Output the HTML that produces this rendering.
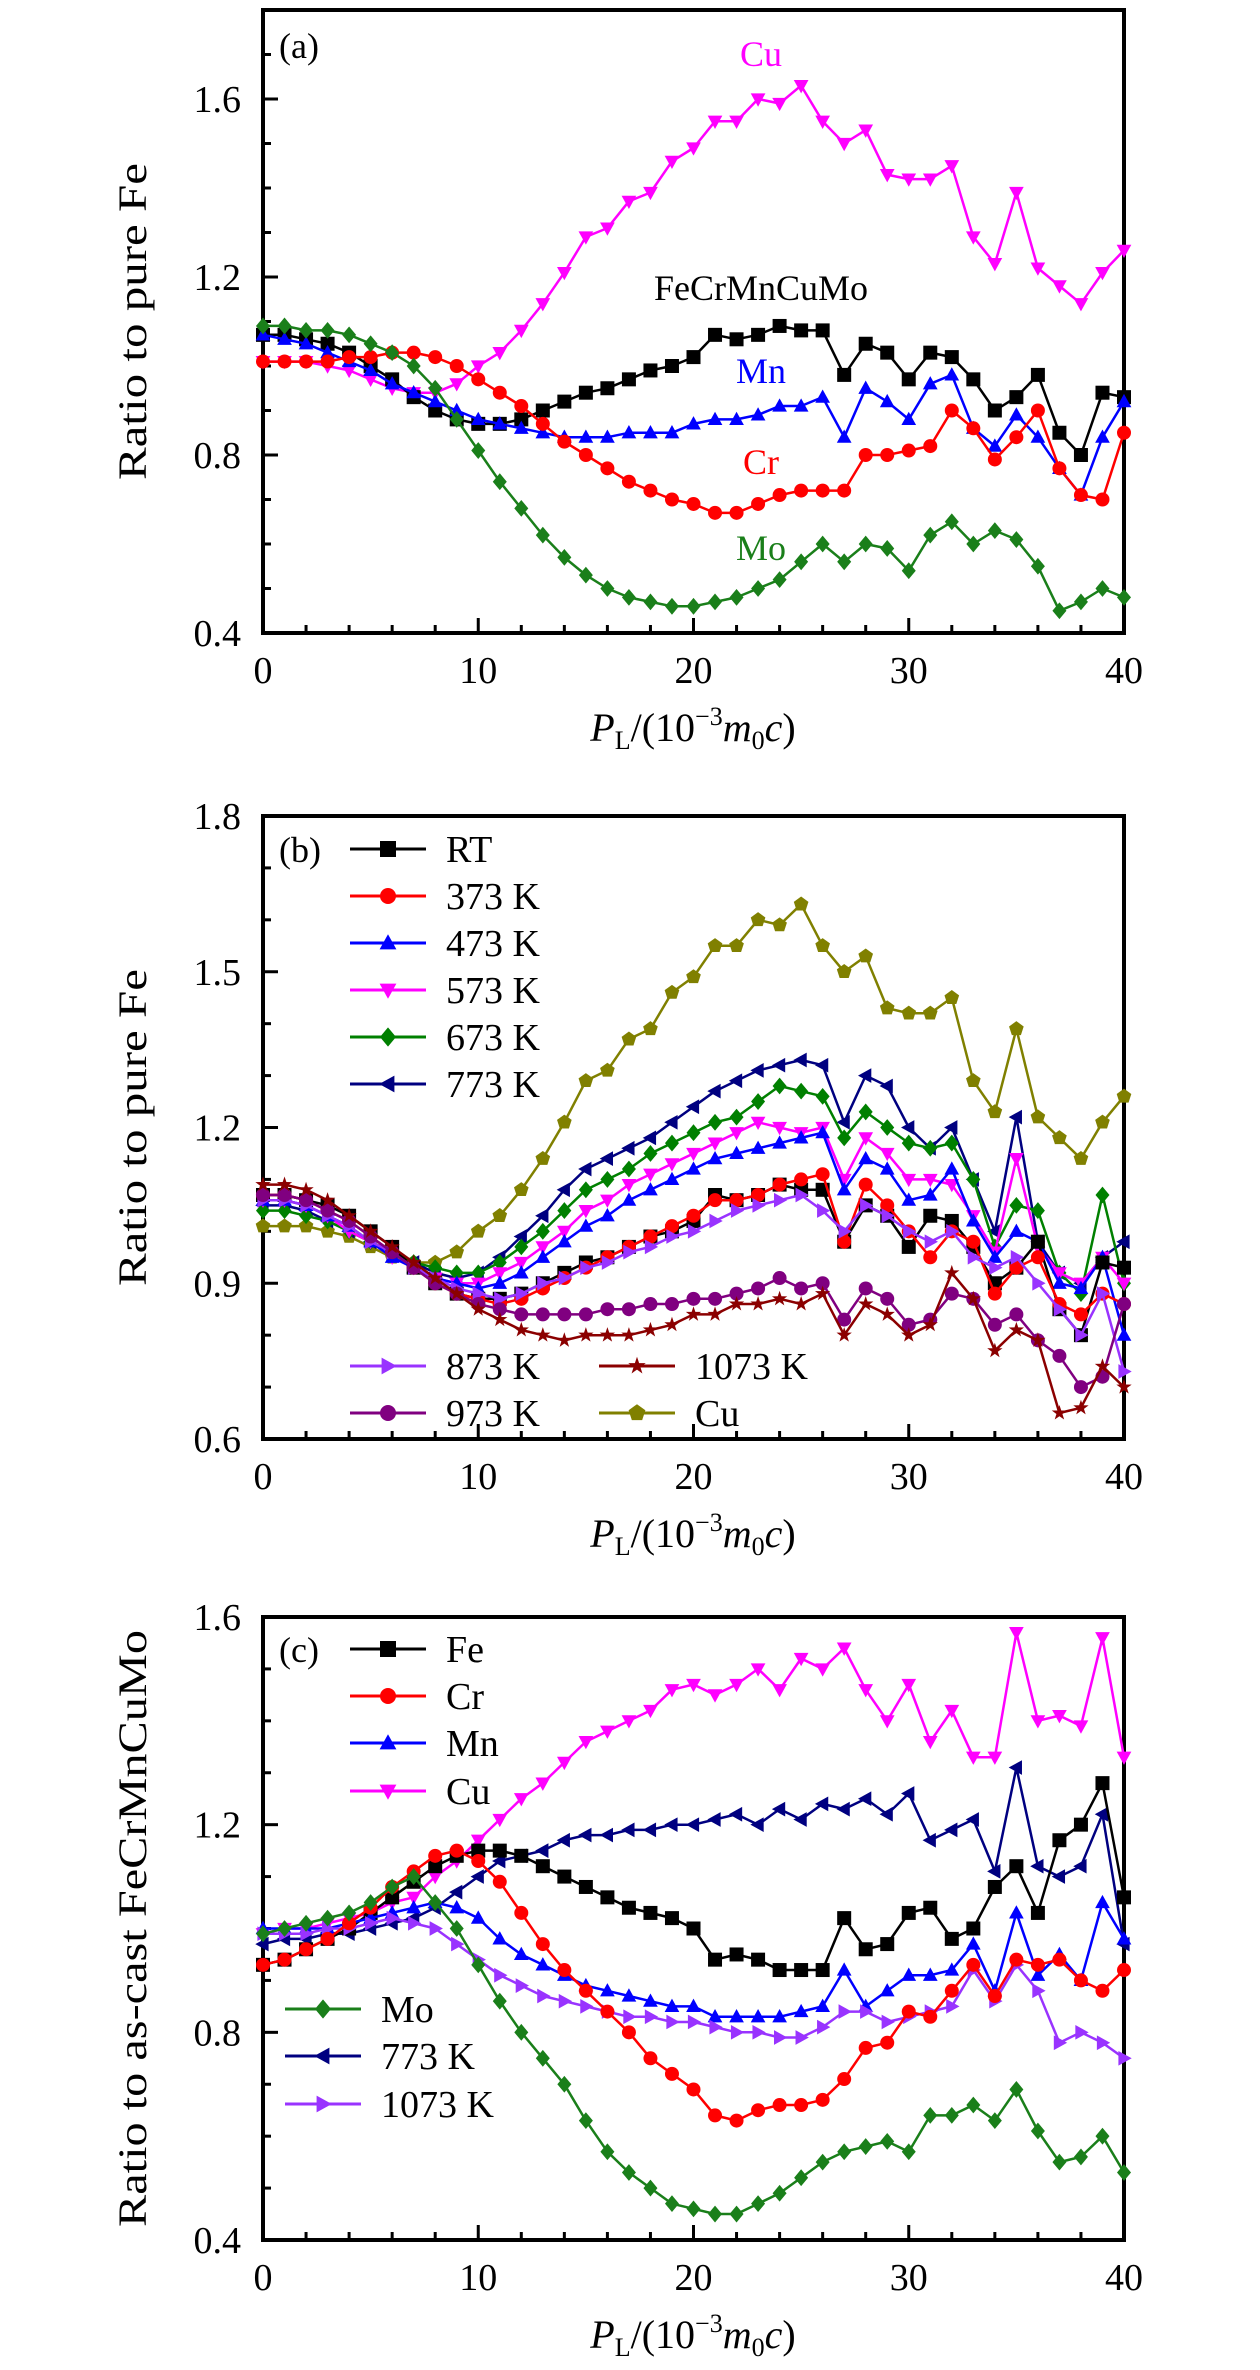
<!DOCTYPE html>
<html><head><meta charset="utf-8"><title>Ratio charts</title>
<style>
html,body{margin:0;padding:0;background:#fff;}
svg{display:block;font-family:"Liberation Serif",serif;}
</style></head>
<body>
<svg id="fig" width="1260" height="2370" viewBox="0 0 1260 2370" xmlns="http://www.w3.org/2000/svg"></svg>
<script>
// ---------- data ----------
const xValues = [0,1,2,3,4,5,6,7,8,9,10,11,12,13,14,15,16,17,18,19,20,21,22,23,24,25,26,27,28,29,30,31,32,33,34,35,36,37,38,39,40];
const xTickLabels = ["0","10","20","30","40"];
const yTicksA = ["0.4","0.8","1.2","1.6"];
const yTicksB = ["0.6","0.9","1.2","1.5","1.8"];
const yTicksC = ["0.4","0.8","1.2","1.6"];

const aCu   = [1.01,1.01,1.01,1.0,0.99,0.97,0.95,0.94,0.94,0.96,1.0,1.03,1.08,1.14,1.21,1.29,1.31,1.37,1.39,1.46,1.49,1.55,1.55,1.6,1.59,1.63,1.55,1.5,1.53,1.43,1.42,1.42,1.45,1.29,1.23,1.39,1.22,1.18,1.14,1.21,1.26];
const aFe   = [1.07,1.07,1.06,1.05,1.03,1.0,0.97,0.93,0.9,0.88,0.87,0.87,0.88,0.9,0.92,0.94,0.95,0.97,0.99,1.0,1.02,1.07,1.06,1.07,1.09,1.08,1.08,0.98,1.05,1.03,0.97,1.03,1.02,0.97,0.9,0.93,0.98,0.85,0.8,0.94,0.93];
const aMn   = [1.07,1.06,1.05,1.03,1.01,0.99,0.96,0.94,0.92,0.9,0.88,0.87,0.86,0.85,0.84,0.84,0.84,0.85,0.85,0.85,0.87,0.88,0.88,0.89,0.91,0.91,0.93,0.84,0.95,0.92,0.88,0.96,0.98,0.86,0.82,0.89,0.84,0.77,0.71,0.84,0.92];
const aCr   = [1.01,1.01,1.01,1.01,1.02,1.02,1.03,1.03,1.02,1.0,0.97,0.94,0.91,0.87,0.83,0.8,0.77,0.74,0.72,0.7,0.69,0.67,0.67,0.69,0.71,0.72,0.72,0.72,0.8,0.8,0.81,0.82,0.9,0.86,0.79,0.84,0.9,0.77,0.71,0.7,0.85];
const aMo   = [1.09,1.09,1.08,1.08,1.07,1.05,1.03,1.0,0.95,0.88,0.81,0.74,0.68,0.62,0.57,0.53,0.5,0.48,0.47,0.46,0.46,0.47,0.48,0.5,0.52,0.56,0.6,0.56,0.6,0.59,0.54,0.62,0.65,0.6,0.63,0.61,0.55,0.45,0.47,0.5,0.48];

const bRT   = aFe;
const b373  = [1.07,1.07,1.06,1.04,1.02,0.99,0.96,0.93,0.9,0.88,0.87,0.86,0.87,0.89,0.91,0.93,0.95,0.97,0.99,1.01,1.03,1.06,1.06,1.07,1.09,1.1,1.11,0.98,1.09,1.05,1.0,0.95,1.0,0.98,0.88,0.93,0.95,0.86,0.84,0.88,0.86];
const b473  = [1.06,1.06,1.05,1.03,1.01,0.98,0.95,0.93,0.91,0.9,0.89,0.9,0.92,0.95,0.98,1.01,1.03,1.06,1.08,1.1,1.12,1.14,1.15,1.16,1.17,1.18,1.19,1.08,1.14,1.12,1.06,1.07,1.12,1.02,0.95,1.0,0.98,0.9,0.89,0.95,0.8];
const b573  = [1.06,1.06,1.05,1.03,1.0,0.98,0.95,0.93,0.91,0.9,0.9,0.92,0.94,0.97,1.0,1.04,1.06,1.09,1.11,1.13,1.15,1.17,1.19,1.21,1.2,1.19,1.2,1.1,1.18,1.15,1.1,1.1,1.09,1.03,0.96,1.14,0.97,0.92,0.9,0.95,0.9];
const b673  = [1.04,1.04,1.03,1.02,1.0,0.98,0.96,0.94,0.93,0.92,0.92,0.94,0.97,1.0,1.04,1.08,1.1,1.12,1.15,1.17,1.19,1.21,1.22,1.25,1.28,1.27,1.26,1.18,1.23,1.2,1.17,1.16,1.17,1.1,0.97,1.05,1.04,0.92,0.88,1.07,0.9];
const b773  = [1.05,1.05,1.04,1.02,1.0,0.98,0.96,0.94,0.92,0.91,0.92,0.95,0.99,1.03,1.08,1.12,1.14,1.16,1.18,1.21,1.24,1.27,1.29,1.31,1.32,1.33,1.32,1.21,1.3,1.28,1.2,1.16,1.2,1.1,1.0,1.22,0.98,0.92,0.9,0.95,0.98];
const b873  = [1.06,1.06,1.05,1.03,1.01,0.98,0.96,0.93,0.91,0.89,0.88,0.87,0.88,0.9,0.91,0.93,0.94,0.96,0.97,0.99,1.0,1.02,1.04,1.05,1.06,1.07,1.04,1.0,1.05,1.03,1.0,0.98,1.0,0.95,0.93,0.95,0.9,0.85,0.8,0.88,0.73];
const b973  = [1.07,1.07,1.06,1.04,1.02,0.99,0.96,0.93,0.9,0.88,0.86,0.85,0.84,0.84,0.84,0.84,0.85,0.85,0.86,0.86,0.87,0.87,0.88,0.89,0.91,0.89,0.9,0.83,0.89,0.87,0.82,0.83,0.88,0.87,0.82,0.84,0.79,0.76,0.7,0.72,0.86];
const b1073 = [1.09,1.09,1.08,1.06,1.03,1.0,0.97,0.94,0.91,0.88,0.85,0.83,0.81,0.8,0.79,0.8,0.8,0.8,0.81,0.82,0.84,0.84,0.86,0.86,0.87,0.86,0.88,0.8,0.86,0.84,0.8,0.82,0.92,0.87,0.77,0.81,0.79,0.65,0.66,0.74,0.7];
const bCu   = aCu;

const cFe   = [0.93,0.94,0.96,0.98,1.0,1.03,1.06,1.09,1.12,1.14,1.15,1.15,1.14,1.12,1.1,1.08,1.06,1.04,1.03,1.02,1.0,0.94,0.95,0.94,0.92,0.92,0.92,1.02,0.96,0.97,1.03,1.04,0.98,1.0,1.08,1.12,1.03,1.17,1.2,1.28,1.06];
const cCr   = [0.93,0.94,0.96,0.98,1.01,1.04,1.08,1.11,1.14,1.15,1.13,1.09,1.03,0.97,0.92,0.88,0.84,0.8,0.75,0.72,0.69,0.64,0.63,0.65,0.66,0.66,0.67,0.71,0.77,0.78,0.84,0.83,0.88,0.93,0.87,0.94,0.93,0.94,0.9,0.88,0.92];
const cMn   = [1.0,1.0,1.0,1.0,1.01,1.02,1.03,1.04,1.05,1.04,1.02,0.98,0.95,0.93,0.91,0.89,0.88,0.87,0.86,0.85,0.85,0.83,0.83,0.83,0.83,0.84,0.85,0.92,0.85,0.88,0.91,0.91,0.92,0.97,0.88,1.03,0.91,0.95,0.9,1.05,0.98];
const cCu   = [0.99,1.0,1.0,1.01,1.02,1.03,1.05,1.06,1.1,1.13,1.17,1.21,1.25,1.28,1.32,1.36,1.38,1.4,1.42,1.46,1.47,1.45,1.47,1.5,1.46,1.52,1.5,1.54,1.46,1.4,1.47,1.36,1.42,1.33,1.33,1.57,1.4,1.41,1.39,1.56,1.33];
const cMo   = [0.99,1.0,1.01,1.02,1.03,1.05,1.08,1.1,1.05,1.0,0.93,0.86,0.8,0.75,0.7,0.63,0.57,0.53,0.5,0.47,0.46,0.45,0.45,0.47,0.49,0.52,0.55,0.57,0.58,0.59,0.57,0.64,0.64,0.66,0.63,0.69,0.61,0.55,0.56,0.6,0.53];
const c773  = [0.97,0.98,0.98,0.99,0.99,1.0,1.01,1.02,1.04,1.07,1.1,1.13,1.14,1.15,1.17,1.18,1.18,1.19,1.19,1.2,1.2,1.21,1.22,1.2,1.23,1.21,1.24,1.23,1.25,1.22,1.26,1.17,1.19,1.21,1.11,1.31,1.12,1.1,1.12,1.22,0.97];
const c1073 = [0.99,0.99,0.99,1.0,1.0,1.01,1.02,1.01,1.0,0.97,0.94,0.91,0.89,0.87,0.86,0.85,0.84,0.83,0.83,0.82,0.82,0.81,0.8,0.8,0.79,0.79,0.81,0.84,0.84,0.82,0.83,0.84,0.85,0.92,0.86,0.93,0.88,0.78,0.8,0.78,0.75];

// ---------- drawing ----------
const NS = "http://www.w3.org/2000/svg";
const svg = document.getElementById("fig");
function mk(tag, attrs, parent){
  const e = document.createElementNS(NS, tag);
  for (const k in attrs) e.setAttribute(k, attrs[k]);
  (parent||svg).appendChild(e);
  return e;
}
function markerPath(type, s){
  const r = s/2;
  switch(type){
    case "square": return `M${-r},${-r}h${s}v${s}h${-s}z`;
    case "up": return `M0,${-r*1.1}L${r*1.05},${r*0.8}L${-r*1.05},${r*0.8}z`;
    case "down": return `M0,${r*1.1}L${r*1.05},${-r*0.8}L${-r*1.05},${-r*0.8}z`;
    case "left": return `M${-r*1.1},0L${r*0.8},${-r*1.05}L${r*0.8},${r*1.05}z`;
    case "right": return `M${r*1.1},0L${-r*0.8},${-r*1.05}L${-r*0.8},${r*1.05}z`;
    case "diamond": return `M0,${-r*1.2}L${r*1.0},0L0,${r*1.2}L${-r*1.0},0z`;
    case "star": { let d=""; for(let i=0;i<10;i++){const a=-Math.PI/2+i*Math.PI/5; const rr=i%2?r*0.45:r*1.15; d+=(i?"L":"M")+(rr*Math.cos(a)).toFixed(2)+","+(rr*Math.sin(a)).toFixed(2);} return d+"z"; }
    case "pent": { let d=""; for(let i=0;i<5;i++){const a=-Math.PI/2+i*2*Math.PI/5; d+=(i?"L":"M")+(r*1.1*Math.cos(a)).toFixed(2)+","+(r*1.1*Math.sin(a)).toFixed(2);} return d+"z"; }
  }
  return "";
}
function drawMarker(g, type, x, y, color, s){
  if (type === "circle") return mk("circle", {cx:x, cy:y, r:s/2, fill:color}, g);
  return mk("path", {d:markerPath(type,s), transform:`translate(${x},${y})`, fill:color}, g);
}

const X0 = 263, X1 = 1124;
function makePanel(name, top, bottom, ymin, ymax, yTicks, yMinorStep, ylabel, ylabelLen){
  const g = mk("g", {});
  
  
  const sx = v => X0 + (v - 0) / 40 * (X1 - X0);
  const sy = v => bottom - (v - ymin) / (ymax - ymin) * (bottom - top);
  // ticks x
  for (let v = 0; v <= 40; v += 2){
    const major = v % 10 === 0;
    const t = mk("line", {x1:sx(v), x2:sx(v), y1:bottom, y2:bottom-(major?15:8), stroke:"#000","stroke-width":3}, g);
    
    
  }
  xTickLabels.forEach(l => {
    const t = mk("text", {x:sx(+l), y:bottom+50, "text-anchor":"middle","font-size":38}, g);
    t.textContent = l;
    
    
  });
  // ticks y
  const nMin = Math.round((ymax - ymin) / yMinorStep);
  const majors = yTicks.map(Number);
  for (let i = 0; i <= nMin; i++){
    const v = ymin + i * yMinorStep;
    const major = majors.some(m => Math.abs(m - v) < 1e-6);
    const t = mk("line", {x1:X0, x2:X0+(major?15:8), y1:sy(v), y2:sy(v), stroke:"#000","stroke-width":3}, g);
    
    
  }
  yTicks.forEach(l => {
    const t = mk("text", {x:241, y:sy(+l)+13, "text-anchor":"end","font-size":38}, g);
    t.textContent = l;
    
    
  });
  // frame
  const f = mk("rect", {x:X0, y:top, width:X1-X0, height:bottom-top, fill:"none", stroke:"#000","stroke-width":4}, g);
  
  
  // y label
  const cy = (top + bottom) / 2;
  const yl = mk("text", {x:0, y:0, transform:`translate(146,${cy}) rotate(-90)`, "text-anchor":"middle","font-size":40, textLength:ylabelLen, lengthAdjust:"spacingAndGlyphs"}, g);
  yl.textContent = ylabel;
  
  
  // x label
  const xl = mk("text", {x:693, y:bottom+108, "text-anchor":"middle","font-size":40}, g);
  xl.innerHTML = '<tspan font-style="italic">P</tspan><tspan font-size="26" dy="8">L</tspan><tspan dy="-8">/(10</tspan><tspan font-size="26" dy="-16">−3</tspan><tspan font-style="italic" dy="16">m</tspan><tspan font-size="26" dy="8">0</tspan><tspan font-style="italic" dy="-8">c</tspan>)';
  
  
  return {g, sx, sy};
}
function series(p, name, vals, color, mtype){
  const g = mk("g", {}, p.g);
  
  
  const pts = vals.map((v,i) => p.sx(xValues[i]).toFixed(1)+","+p.sy(v).toFixed(1)).join(" ");
  mk("polyline", {points:pts, fill:"none", stroke:color, "stroke-width":2.5, "stroke-linejoin":"round"}, g);
  vals.forEach((v,i) => {
    const m = drawMarker(g, mtype, p.sx(xValues[i]), p.sy(v), color, 14);
    
    
  });
}
function label(p, txt, x, y, color, size, anchor){
  const t = mk("text", {x:x, y:y, fill:color, "font-size":size||38, "text-anchor":anchor||"start"}, p.g);
  t.textContent = txt;
  
  
}
function legendEntry(p, txt, x, y, color, mtype, lineLen){
  const g = mk("g", {}, p.g);
  
  
  mk("line", {x1:x, x2:x+lineLen, y1:y, y2:y, stroke:color, "stroke-width":3}, g);
  drawMarker(g, mtype, x+lineLen/2, y, color, 16);
  const t = mk("text", {x:x+lineLen+20, y:y+13, "font-size":38}, g);
  t.textContent = txt;
}

// Panel A
const pa = makePanel("panel-a", 10, 633, 0.4, 1.8, yTicksA, 0.1, "Ratio to pure Fe", 317);
series(pa, "series-a-cu", aCu, "#ff00ff", "down");
series(pa, "series-a-fe", aFe, "#000000", "square");
series(pa, "series-a-mn", aMn, "#0000ff", "up");
series(pa, "series-a-cr", aCr, "#ff0000", "circle");
series(pa, "series-a-mo", aMo, "#1a7f1a", "diamond");
label(pa, "(a)", 279, 58, "#000", 36);
label(pa, "Cu", 761, 66, "#ff00ff", 36, "middle");
label(pa, "FeCrMnCuMo", 761, 300, "#000", 36, "middle");
label(pa, "Mn", 761, 383, "#0000ff", 36, "middle");
label(pa, "Cr", 761, 474, "#ff0000", 36, "middle");
label(pa, "Mo", 761, 560, "#1a7f1a", 36, "middle");

// Panel B
const pb = makePanel("panel-b", 816, 1439, 0.6, 1.8, yTicksB, 0.1, "Ratio to pure Fe", 317);
series(pb, "series-b-cu", bCu, "#808000", "pent");
series(pb, "series-b-773", b773, "#000080", "left");
series(pb, "series-b-673", b673, "#008000", "diamond");
series(pb, "series-b-573", b573, "#ff00ff", "down");
series(pb, "series-b-473", b473, "#0000ff", "up");
series(pb, "series-b-rt", bRT, "#000000", "square");
series(pb, "series-b-373", b373, "#ff0000", "circle");
series(pb, "series-b-873", b873, "#9933ff", "right");
series(pb, "series-b-973", b973, "#800080", "circle");
series(pb, "series-b-1073", b1073, "#8b0000", "star");
label(pb, "(b)", 279, 862, "#000", 36);
legendEntry(pb, "RT", 350, 849, "#000000", "square", 76);
legendEntry(pb, "373 K", 350, 896, "#ff0000", "circle", 76);
legendEntry(pb, "473 K", 350, 943, "#0000ff", "up", 76);
legendEntry(pb, "573 K", 350, 990, "#ff00ff", "down", 76);
legendEntry(pb, "673 K", 350, 1037, "#008000", "diamond", 76);
legendEntry(pb, "773 K", 350, 1084, "#000080", "left", 76);
legendEntry(pb, "873 K", 350, 1366, "#9933ff", "right", 76);
legendEntry(pb, "973 K", 350, 1413, "#800080", "circle", 76);
legendEntry(pb, "1073 K", 599, 1366, "#8b0000", "star", 76);
legendEntry(pb, "Cu", 599, 1413, "#808000", "pent", 76);

// Panel C
const pc = makePanel("panel-c", 1617, 2240, 0.4, 1.6, yTicksC, 0.1, "Ratio to as-cast FeCrMnCuMo", 597);
series(pc, "series-c-cu", cCu, "#ff00ff", "down");
series(pc, "series-c-773", c773, "#000080", "left");
series(pc, "series-c-fe", cFe, "#000000", "square");
series(pc, "series-c-mn", cMn, "#0000ff", "up");
series(pc, "series-c-1073", c1073, "#9933ff", "right");
series(pc, "series-c-cr", cCr, "#ff0000", "circle");
series(pc, "series-c-mo", cMo, "#1a7f1a", "diamond");
label(pc, "(c)", 279, 1662, "#000", 36);
legendEntry(pc, "Fe", 350, 1649, "#000000", "square", 76);
legendEntry(pc, "Cr", 350, 1696, "#ff0000", "circle", 76);
legendEntry(pc, "Mn", 350, 1743, "#0000ff", "up", 76);
legendEntry(pc, "Cu", 350, 1791, "#ff00ff", "down", 76);
legendEntry(pc, "Mo", 285, 2009, "#1a7f1a", "diamond", 76);
legendEntry(pc, "773 K", 285, 2056, "#000080", "left", 76);
legendEntry(pc, "1073 K", 285, 2104, "#9933ff", "right", 76);
</script>
</body></html>
